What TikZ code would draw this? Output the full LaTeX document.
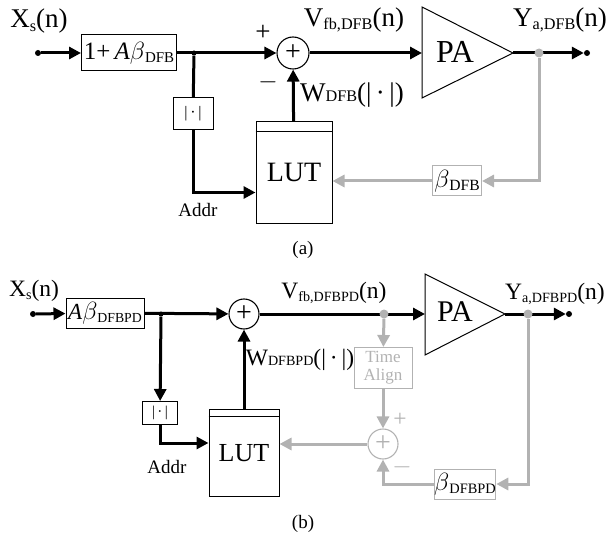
\documentclass[tikz,border=0pt]{standalone}
\usepackage{fontspec}
\setmainfont{Liberation Serif}
\usetikzlibrary{arrows.meta,positioning}
\definecolor{fbgray}{RGB}{178,178,178}
\newcommand{\lowtxt}[1]{\raisebox{-0.3ex}{\scalebox{0.6}{#1}}}
\newcommand{\flattxt}[1]{\scalebox{0.6}{#1}}

\begin{document}
\begin{tikzpicture}
 [x=1pt,y=-1pt,
  block/.style={draw,line width=1pt,inner sep=0pt},
  graybox/.style={draw=fbgray,line width=1pt,inner sep=0pt},
  lut/.style={draw,line width=1pt,inner sep=0pt},
  sum node/.style={circle,draw,line width=1.1pt,inner sep=0pt,font=\fontsize{28}{28}\selectfont},
  dot/.style={circle,fill,inner sep=0pt,minimum size=6pt},
  tap/.style={circle,fill=fbgray,inner sep=0pt,minimum size=9pt},
  sig/.style={line width=3pt,-{Triangle[length=12pt,width=12pt]}},
  fb/.style={sig,fbgray},
  laba/.style={font=\fontsize{27}{30}\selectfont},
  labb/.style={font=\fontsize{23.5}{26}\selectfont},
  small/.style={font=\fontsize{19}{21}\selectfont}]

\useasboundingbox (0,0) rectangle (610,540);

% (a)
\node[dot] (in1) at (38,53) {};
\node[block,minimum width=95pt,minimum height=36pt,font=\fontsize{25}{27}\selectfont] (g1) at (129,53) {1+\,\textit{A}$\beta$\lowtxt{DFB}};
\node[dot,minimum size=5pt] (j1) at (194,53) {};
\node[sum node,minimum size=32pt] (s1) at (293,53) {+};
\node[block,minimum width=40pt,minimum height=32pt,font=\fontsize{16}{18}\selectfont] (abs1) at (193,114) {|\,\textperiodcentered\,|};
\node[lut,minimum width=76pt,minimum height=101pt,font=\fontsize{28}{30}\selectfont] (lut1) at (294,172.5) {LUT};
\draw[line width=1pt] ([yshift=-10pt]lut1.north west) -- ([yshift=-10pt]lut1.north east);
\draw[line width=1pt] (422,7) -- (513,53) -- (422,98) -- cycle;
\coordinate (pa1in) at (422,53);
\coordinate (pa1out) at (513,53);
\node[font=\fontsize{32}{34}\selectfont] (pa1) at (455,52) {PA};
\node[dot] (out1) at (587,53) {};
\node[graybox,minimum width=49pt,minimum height=30pt,font=\fontsize{26}{28}\selectfont] (b1) at (457,181) {$\beta$\lowtxt{DFB}};

\node[laba] (xs1) at (39,21) {X\lowtxt{s}(n)};
\node[laba] (plus1) at (263,33) {+};
\node[laba] (minus1) at (268,82) {$-$};
\node[laba] (v1) at (354,20) {V\lowtxt{fb,DFB}(n)};
\node[laba] (w1) at (352,95) {W\flattxt{DFB}(|\,\textperiodcentered\,|)};
\node[laba] (y1) at (560,20) {Y\lowtxt{a,DFB}(n)};
\node[small] (addr1) at (198,210) {Addr};
\node[small] (cap1) at (303,250) {(a)};

\draw[sig] (in1) -- (g1);
\draw[sig] (g1) -- (s1);
\draw[line width=3pt] (j1) -- (abs1);
\draw[sig] (abs1) |- ([yshift=-20pt]lut1.west);
\draw[sig] (lut1) -- (s1);
\draw[sig] (s1) -- (pa1in);
\draw[sig] (pa1out) -- (out1);
\draw[fb] (b1) -- (b1 -| lut1.east);
\node[tap] (t1) at (539,53) {};
\draw[fb] (t1) |- (b1);

% (b)
\node[dot] (in2) at (33,314) {};
\node[block,minimum width=78pt,minimum height=30pt,font=\fontsize{23}{25}\selectfont] (g2) at (105,313) {\textit{A}$\beta$\lowtxt{DFBPD}};
\node[dot,minimum size=5pt] (j2) at (161,314) {};
\node[sum node,minimum size=30pt] (s2) at (244,314) {+};
\node[block,minimum width=35pt,minimum height=23pt,font=\fontsize{15}{17}\selectfont] (abs2) at (160,413) {|\,\textperiodcentered\,|};
\node[lut,minimum width=70pt,minimum height=87pt,font=\fontsize{26}{28}\selectfont] (lut2) at (244,453) {LUT};
\draw[line width=1pt] ([yshift=-7pt]lut2.north west) -- ([yshift=-7pt]lut2.north east);
\draw[line width=1pt] (425,274) -- (505,314) -- (425,355) -- cycle;
\coordinate (pa2in) at (425,314);
\coordinate (pa2out) at (505,314);
\node[font=\fontsize{30}{32}\selectfont] (pa2) at (455,312) {PA};
\node[dot] (out2) at (569,314) {};
\node[graybox,text=fbgray,minimum width=58pt,minimum height=41pt,align=center,font=\fontsize{17}{18}\selectfont] (ta) at (383,368) {Time\\Align};
\node[sum node,draw=fbgray,text=fbgray,minimum size=30pt] (s3) at (383,444) {+};
\node[graybox,minimum width=60pt,minimum height=30pt,font=\fontsize{24}{26}\selectfont] (b2) at (465,484) {$\beta$\lowtxt{DFBPD}};

\node[labb] (xs2) at (34,291) {X\lowtxt{s}(n)};
\node[labb] (v2) at (334,293) {V\lowtxt{fb,DFBPD}(n)};
\node[labb] (w2) at (300,360) {W\flattxt{DFBPD}(|\,\textperiodcentered\,|)};
\node[labb] (y2) at (555,294) {Y\lowtxt{a,DFBPD}(n)};
\node[labb,text=fbgray] (plus3) at (400,420) {+};
\node[labb,text=fbgray] (minus3) at (402,467) {$-$};
\node[small] (addr2) at (167,467) {Addr};
\node[small] (cap2) at (303,524) {(b)};

\draw[sig] (in2) -- (g2);
\draw[sig] (g2) -- (s2);
\draw[sig] (j2) -- (abs2);
\draw[sig] (abs2) |- ([yshift=10pt]lut2.west);
\draw[sig] (lut2) -- (s2);
\draw[sig] (s2) -- (pa2in);
\draw[sig] (pa2out) -- (out2);
\node[tap] (t2) at (384,314) {};
\draw[fb] (t2) -- (ta);
\draw[fb] (ta) -- (s3);
\draw[fb] (s3) -- (s3 -| lut2.east);
\node[tap] (t3) at (528,314) {};
\draw[fb] (t3) |- (b2);
\draw[fb] (b2) -| (s3);

\end{tikzpicture}
\end{document}
